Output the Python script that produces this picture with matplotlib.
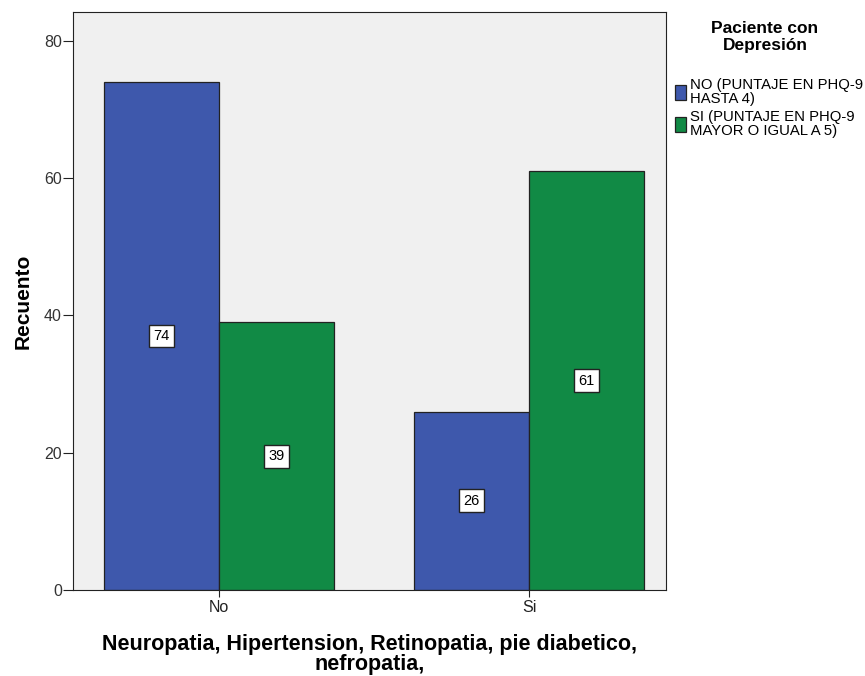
import matplotlib.pyplot as plt
import numpy as np

categories = ["No", "Si"]
series_labels = ["NO (PUNTAJE EN PHQ-9\nHASTA 4)", "SI (PUNTAJE EN PHQ-9\nMAYOR O IGUAL A 5)"]
no_depresion = [74, 26]
si_depresion = [39, 61]

colors = ["#3e58ac", "#118a45"]
plt.rcParams["font.family"] = ["Liberation Sans", "DejaVu Sans"]

fig = plt.figure(figsize=(8.65, 6.76), dpi=100)
ax = fig.add_axes([0.0844, 0.1272, 0.685, 0.855])
ax.set_facecolor("#f0f0f0")

x = np.arange(len(categories))
width = 0.371
for i, (vals, lab) in enumerate(zip([no_depresion, si_depresion], series_labels)):
    offs = (i - 0.5) * width
    ax.bar(x + offs, vals, width, color=colors[i], edgecolor="#222222", linewidth=0.9, label=lab)
    for xi, v in zip(x + offs, vals):
        ax.text(xi, v / 2, str(v), ha="center", va="center", fontsize=10.5,
                bbox=dict(boxstyle="square,pad=0.3", facecolor="white", edgecolor="#222222", linewidth=1.0))

ax.set_xlim(-0.47, 1.44)
ax.set_ylim(0, 84.2)
ax.set_yticks([0, 20, 40, 60, 80])
ax.set_xticks(x)
ax.set_xticklabels(categories)
ax.tick_params(axis="both", labelsize=11.5, color="#222222", width=0.8)
ax.tick_params(axis="y", labelcolor="#333333", length=7, pad=1)
ax.tick_params(axis="x", labelcolor="#222222", length=5, pad=2)
for s in ax.spines.values():
    s.set_color("#222222")
    s.set_linewidth(0.8)

ax.set_ylabel("Recuento", fontsize=15, fontweight="bold", labelpad=8)
ax.set_xlabel("Neuropatia, Hipertension, Retinopatia, pie diabetico,\nnefropatia,",
              fontsize=15.5, fontweight="bold", labelpad=14, linespacing=0.9)

# legend title is placed separately so it can sit centred above the entries
fig.text(765 / 865, 1 - 21 / 676, "Paciente con\nDepresión", ha="center", va="top",
         fontsize=12.5, fontweight="bold", linespacing=1.15)
ax.legend(loc="upper left", bbox_to_anchor=(1.003, 1 - 59 / 578), frameon=False,
          fontsize=10.7, handlelength=0.75, handleheight=1.2, handletextpad=0.25,
          labelspacing=0.3, borderaxespad=0.0, borderpad=0.5)
for t in ax.get_legend().get_texts():
    t.set_linespacing(0.95)

plt.savefig("out.png", dpi=100)
